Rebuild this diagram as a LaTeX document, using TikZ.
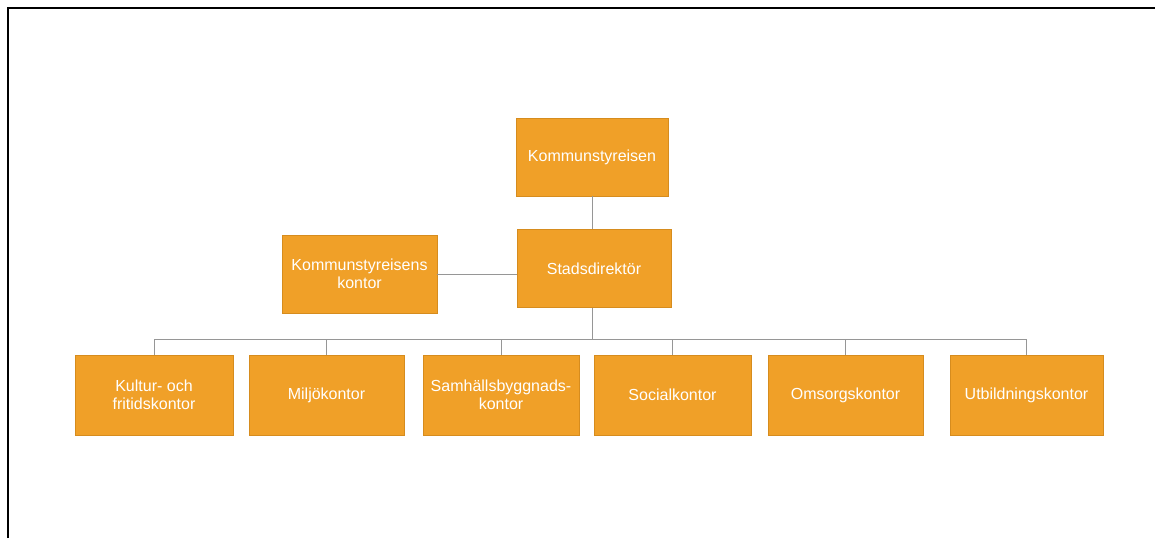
\documentclass[tikz,border=0pt]{standalone}
\usepackage{fontspec}
\setmainfont{Liberation Sans}
\begin{document}
\begin{tikzpicture}[x=1pt,y=-1pt,
  orgbox/.style={draw={rgb,255:red,214;green,140;blue,30},line width=0.6pt,
    fill={rgb,255:red,240;green,160;blue,40},text=white,
    font=\fontsize{16}{18.5}\selectfont,align=center,inner sep=0pt,
    minimum height=78pt},
  link/.style={draw={rgb,255:red,150;green,150;blue,150},line width=0.8pt}]
\useasboundingbox (0,0) rectangle (1155,538);
\fill[white] (0,0) rectangle (1155,538);
\draw[line width=2pt] (8,538) -- (8,8) -- (1155,8);

\node[orgbox,minimum width=152pt] (ks) at (592,157) {Kommunstyreisen};
\node[orgbox,minimum width=154pt] (sd) at (594,268.5) {Stadsdirektör};
\node[orgbox,minimum width=155pt] (kk) at (359.5,274) {Kommunstyreisens\\kontor};

\node[orgbox,minimum width=158pt,minimum height=80pt] (b1) at (154,395) {Kultur- och\\fritidskontor};
\node[orgbox,minimum width=155pt,minimum height=80pt] (b2) at (326.5,395) {Miljökontor};
\node[orgbox,minimum width=156pt,minimum height=80pt] (b3) at (501,395) {Samhällsbyggnads-\\kontor};
\node[orgbox,minimum width=157pt,minimum height=80pt] (b4) at (672.5,395) {Socialkontor};
\node[orgbox,minimum width=155pt,minimum height=80pt] (b5) at (845.5,395) {Omsorgskontor};
\node[orgbox,minimum width=153pt,minimum height=80pt] (b6) at (1026.5,395) {Utbildningskontor};

\coordinate (bus) at (592,339);
\draw[link] (ks.south) -- (ks.south |- sd.north);
\draw[link] (kk.east) -- (kk.east -| sd.west);
\draw[link] (sd.south -| bus) -- (bus);
\draw[link] (b1.north) -- (b1.north |- bus) -- (b6.north |- bus) -- (b6.north);
\foreach \b in {b2,b3,b4,b5} \draw[link] (\b.north) -- (\b.north |- bus);
\end{tikzpicture}
\end{document}
